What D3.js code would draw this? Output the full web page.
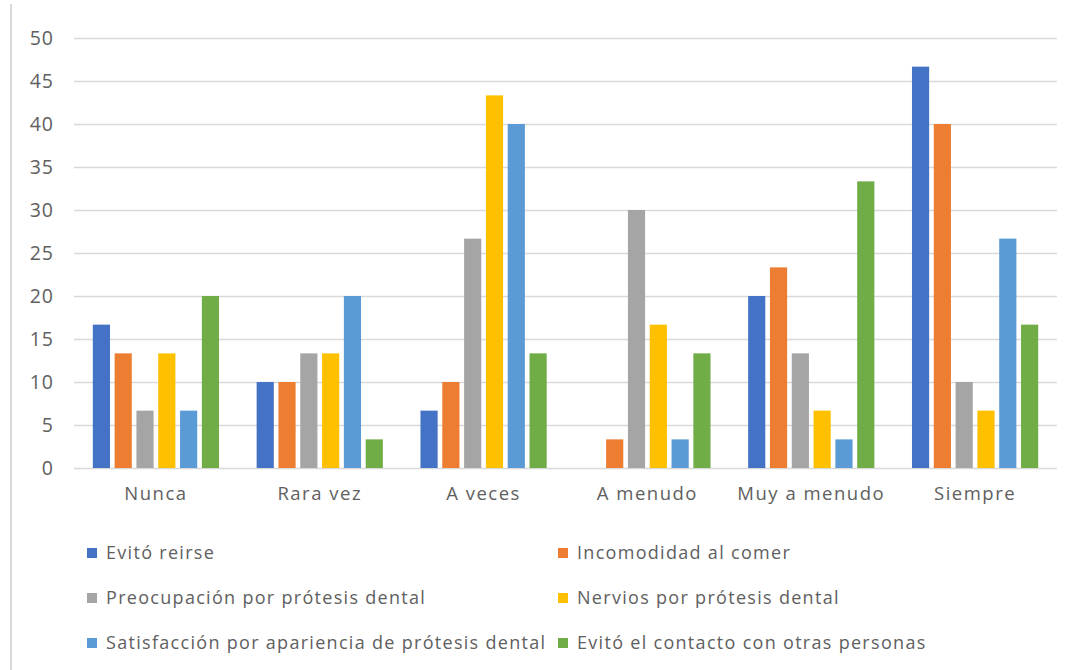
<!DOCTYPE html>
<html>
<head>
<meta charset="utf-8">
<script src="https://cdn.jsdelivr.net/npm/d3@7"></script>
<style>
  body { margin: 0; background: #fff; }
  text { font-family: "Open Sans", sans-serif; fill: #606060; }
</style>
</head>
<body>
<div class="content"></div>
<script>
const SVGWIDTH = 1081;
const SVGHEIGHT = 670;

// data (percent of respondents)
const categories = ["Nunca", "Rara vez", "A veces", "A menudo", "Muy a menudo", "Siempre"];
const seriesNames = [
  "Evitó reirse",
  "Incomodidad al comer",
  "Preocupación por prótesis dental",
  "Nervios por prótesis dental",
  "Satisfacción por apariencia de prótesis dental",
  "Evitó el contacto con otras personas"
];
const evitoReirse    = [16.67, 10, 6.67, 0, 20, 46.67];
const incomodidad    = [13.33, 10, 10, 3.33, 23.33, 40];
const preocupacion   = [6.67, 13.33, 26.67, 30, 13.33, 10];
const nervios        = [13.33, 13.33, 43.33, 16.67, 6.67, 6.67];
const satisfaccion   = [6.67, 20, 40, 3.33, 3.33, 26.67];
const evitoContacto  = [20, 3.33, 13.33, 13.33, 33.33, 16.67];
const yTicks = [0, 5, 10, 15, 20, 25, 30, 35, 40, 45, 50];

const seriesValues = [evitoReirse, incomodidad, preocupacion, nervios, satisfaccion, evitoContacto];
const colors = ["#4472C4", "#ED7D31", "#A5A5A5", "#FFC000", "#5B9BD5", "#70AD47"];

const svg = d3.select(".content").append("svg")
  .attr("width", SVGWIDTH).attr("height", SVGHEIGHT);

// outer frame line on the left
svg.append("line")
  .attr("x1", 11).attr("x2", 11).attr("y1", 4).attr("y2", SVGHEIGHT)
  .attr("stroke", "#d9d9d9").attr("stroke-width", 2);

// scales
let x0 = d3.scaleBand()
  .domain(categories)
  .range([74, 1057])
  .paddingInner(0.2296)
  .paddingOuter(0.1148);
let x1 = d3.scaleBand()
  .domain(d3.range(seriesNames.length))
  .range([0, x0.bandwidth()])
  .paddingInner(0.2126)
  .paddingOuter(0);
let yscale = d3.scaleLinear().domain([0, 50]).range([468, 38]);
let color = d3.scaleOrdinal().domain(d3.range(seriesNames.length)).range(colors);

// gridlines
svg.append("g").attr("id", "grid")
  .selectAll("line")
  .data(yTicks)
  .join("line")
  .attr("x1", 74).attr("x2", 1057)
  .attr("y1", d => Math.round(yscale(d)) + 0.5)
  .attr("y2", d => Math.round(yscale(d)) + 0.5)
  .attr("stroke", "#d9d9d9").attr("stroke-width", 1.5);

// y axis labels
let yaxis = d3.axisLeft(yscale).tickValues(yTicks).tickSize(0).tickPadding(0);
let yg = svg.append("g").attr("transform", "translate(54,0)").call(yaxis);
yg.select(".domain").remove();
yg.selectAll("text")
  .style("font-family", "'Open Sans', sans-serif")
  .style("font-size", "19.5px")
  .style("letter-spacing", "1px")
  .attr("fill", "#606060");

// x axis labels
let xaxis = d3.axisBottom(x0).tickSize(0).tickPadding(0);
let xg = svg.append("g").attr("transform", "translate(0,487)").call(xaxis);
xg.select(".domain").remove();
xg.selectAll("text")
  .style("font-family", "'Open Sans', sans-serif")
  .style("font-size", "18.5px")
  .style("letter-spacing", "1.5px")
  .attr("fill", "#606060");

// bars
let groups = svg.append("g").attr("id", "bars")
  .selectAll(".cat")
  .data(categories)
  .join("g")
  .classed("cat", true)
  .attr("transform", d => "translate(" + x0(d) + ",0)");

groups.selectAll("rect")
  .data((d, ci) => seriesValues.map((vals, si) => ({ key: si, value: vals[ci] })))
  .join("rect")
  .attr("x", d => x1(d.key))
  .attr("y", d => yscale(d.value))
  .attr("width", x1.bandwidth())
  .attr("height", d => yscale(0) - yscale(d.value))
  .attr("fill", d => color(d.key));

// legend (two columns, three rows)
const legendCols = [87, 558];
const legendRows = [553, 598, 643];
let legend = svg.append("g").attr("id", "legend")
  .selectAll("g")
  .data(seriesNames)
  .join("g")
  .attr("transform", (d, i) => "translate(" + legendCols[i % 2] + "," + legendRows[Math.floor(i / 2)] + ")");
legend.append("rect")
  .attr("x", 0).attr("y", -5).attr("width", 10).attr("height", 10)
  .attr("fill", (d, i) => colors[i]);
legend.append("text")
  .attr("x", 19).attr("y", 0).attr("dy", "0.35em")
  .style("font-size", "18px")
  .style("letter-spacing", "1.3px")
  .text(d => d);
</script>
</body>
</html>
